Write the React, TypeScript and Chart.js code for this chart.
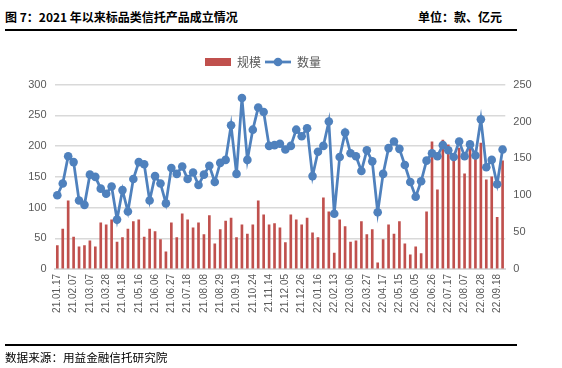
import React, { useEffect, useRef } from "react";
import { Chart, registerables } from "chart.js";

Chart.register(...registerables);

const categories: string[] = [
  "21.01.17", "21.01.24", "21.01.31", "21.02.07", "21.02.21", "21.02.28", "21.03.07", "21.03.14", "21.03.21", "21.03.28",
  "21.04.04", "21.04.11", "21.04.18", "21.04.25", "21.05.09", "21.05.16", "21.05.23", "21.05.30", "21.06.06", "21.06.13",
  "21.06.20", "21.06.27", "21.07.04", "21.07.11", "21.07.18", "21.07.25", "21.08.01", "21.08.08", "21.08.15", "21.08.22",
  "21.08.29", "21.09.05", "21.09.12", "21.09.19", "21.09.26", "21.10.17", "21.10.24", "21.10.31", "21.11.07", "21.11.14",
  "21.11.21", "21.11.28", "21.12.05", "21.12.12", "21.12.19", "21.12.26", "22.01.02", "22.01.09", "22.01.16", "22.01.23",
  "22.01.30", "22.02.13", "22.02.20", "22.02.27", "22.03.06", "22.03.13", "22.03.20", "22.03.27", "22.04.03", "22.04.10",
  "22.04.17", "22.04.24", "22.05.08", "22.05.15", "22.05.22", "22.05.29", "22.06.05", "22.06.12", "22.06.19", "22.06.26",
  "22.07.03", "22.07.10", "22.07.17", "22.07.24", "22.07.31", "22.08.07", "22.08.14", "22.08.21", "22.08.28", "22.09.04",
  "22.09.11", "22.09.18", "22.09.25",
];

// 规模（亿元）— left axis
const scaleValues: number[] = [
  38, 65, 111, 52, 36, 38, 46, 36, 75, 72,
  80, 44, 51, 65, 77, 80, 52, 65, 61, 48,
  28, 75, 51, 90, 80, 67, 75, 56, 87, 41,
  64, 78, 83, 51, 72, 57, 72, 111, 88, 72,
  74, 67, 43, 88, 80, 72, 83, 59, 51, 116,
  93, 26, 80, 69, 44, 46, 77, 56, 64, 10,
  48, 72, 57, 77, 41, 23, 36, 25, 93, 207,
  129, 210, 202, 184, 197, 155, 197, 184, 205, 145,
  150, 84, 176,
];

// 数量（款）— right axis
const countValues: number[] = [
  100, 116, 153, 145, 93, 87, 128, 125, 109, 102,
  112, 67, 107, 78, 122, 145, 142, 93, 126, 116,
  89, 137, 129, 139, 122, 131, 114, 128, 140, 118,
  144, 148, 195, 129, 232, 148, 189, 219, 213, 167,
  168, 170, 162, 167, 189, 180, 191, 126, 159, 167,
  200, 75, 152, 185, 157, 153, 133, 161, 146, 77,
  129, 164, 173, 163, 141, 118, 98, 119, 147, 157,
  153, 168, 161, 152, 173, 153, 169, 154, 203, 138,
  148, 115, 162,
];

const seriesNames = ["规模", "数量"];
const leftAxis = { min: 0, max: 300, step: 50 };
const rightAxis = { min: 0, max: 250, step: 50 };
const labelEvery = 3;

const BAR_COLOR = "#C0504D";
const LINE_COLOR = "#4F81BD";
const TEXT_COLOR = "#595959";
const FONT = '"Liberation Sans", Arial, "Noto Sans CJK SC", sans-serif';
const CJK = '"Noto Sans CJK SC", "Noto Sans CJK JP", sans-serif';

function makeBarIcon(): HTMLCanvasElement {
  const c = document.createElement("canvas");
  c.width = 26;
  c.height = 8;
  const ctx = c.getContext("2d")!;
  ctx.fillStyle = BAR_COLOR;
  ctx.fillRect(0, 0, 26, 8);
  return c;
}

function makeLineIcon(): HTMLCanvasElement {
  const c = document.createElement("canvas");
  c.width = 26;
  c.height = 10;
  const ctx = c.getContext("2d")!;
  ctx.strokeStyle = LINE_COLOR;
  ctx.lineWidth = 2.75;
  ctx.beginPath();
  ctx.moveTo(0, 5);
  ctx.lineTo(26, 5);
  ctx.stroke();
  ctx.fillStyle = LINE_COLOR;
  ctx.beginPath();
  ctx.arc(13, 5, 4.3, 0, Math.PI * 2);
  ctx.fill();
  return c;
}

export default function App() {
  const ref = useRef<HTMLCanvasElement | null>(null);

  useEffect(() => {
    if (!ref.current) return;
    const barIcon = makeBarIcon();
    const lineIcon = makeLineIcon();

    const legendPlugin = {
      id: "legendTweak",
      beforeInit(chart: any) {
        const legend = chart.legend;
        if (!legend) return;
        const orig = legend.fit;
        legend.fit = function () {
          orig.call(this);
          this.height = 32.7;
        };
      },
      afterLayout(chart: any) {
        const legend = chart.legend;
        if (!legend) return;
        legend.left = 0;
        legend.right = 526;
      },
    };

    const chart = new Chart(ref.current, {
      type: "bar",
      data: {
        labels: categories,
        datasets: [
          {
            type: "bar",
            label: seriesNames[0],
            data: scaleValues,
            yAxisID: "y",
            backgroundColor: BAR_COLOR,
            barThickness: 2,
            order: 1,
          } as any,
          {
            type: "line",
            label: seriesNames[1],
            data: countValues,
            yAxisID: "y1",
            borderColor: LINE_COLOR,
            backgroundColor: LINE_COLOR,
            borderWidth: 2.75,
            pointRadius: 4.3,
            pointBorderWidth: 0,
            pointBackgroundColor: LINE_COLOR,
            tension: 0,
            order: 0,
          } as any,
        ],
      },
      options: {
        animation: false,
        responsive: false,
        maintainAspectRatio: false,
        layout: { padding: { top: 52, right: 0, bottom: 29, left: 0 } },
        plugins: {
          tooltip: { enabled: false },
          legend: {
            position: "top",
            labels: {
              usePointStyle: true,
              pointStyleWidth: 26,
              boxHeight: 12,
              padding: 4,
              color: TEXT_COLOR,
              font: { size: 12, family: CJK },
              generateLabels(ch: any) {
                const items = Chart.defaults.plugins.legend.labels.generateLabels(ch);
                items.forEach((it: any) => {
                  it.pointStyle = it.datasetIndex === 0 ? barIcon : lineIcon;
                });
                return items.sort((a: any, b: any) => a.datasetIndex - b.datasetIndex);
              },
            },
          },
        },
        scales: {
          x: {
            offset: true,
            grid: { display: false, drawTicks: false },
            border: { display: true, color: "#d9d9d9", width: 2 },
            ticks: {
              autoSkip: false,
              minRotation: 90,
              maxRotation: 90,
              padding: 5,
              color: TEXT_COLOR,
              font: { size: 10, family: FONT },
              callback: (_v: any, i: number) => (i % labelEvery === 0 ? categories[i] : ""),
            },
            afterFit(s: any) {
              s.height = 70;
            },
          },
          y: {
            position: "left",
            min: leftAxis.min,
            max: leftAxis.max,
            grid: { color: "#d9d9d9", lineWidth: 1.5, drawTicks: false },
            border: { display: false },
            ticks: { stepSize: leftAxis.step, padding: 8, color: TEXT_COLOR, font: { size: 11, family: FONT } },
            afterFit(s: any) {
              s.width = 54.6;
            },
          },
          y1: {
            position: "right",
            min: rightAxis.min,
            max: rightAxis.max,
            grid: { display: false, drawTicks: false },
            border: { display: false },
            ticks: { stepSize: rightAxis.step, padding: 8, color: TEXT_COLOR, font: { size: 11, family: FONT } },
            afterFit(s: any) {
              s.width = 562 - 505.3;
            },
          },
        },
      },
      plugins: [legendPlugin],
    } as any);

    return () => chart.destroy();
  }, []);

  return (
    <div
      style={{
        position: "fixed",
        left: 0,
        top: 0,
        width: 562,
        height: 368,
        background: "#fff",
        overflow: "hidden",
      }}
    >
      <div
        style={{
          position: "absolute",
          left: 5,
          top: 8,
          fontFamily: CJK,
          fontWeight: "bold",
          fontSize: 12,
          lineHeight: "18px",
          color: "#000",
          whiteSpace: "nowrap",
        }}
      >
        图 7：2021 年以来标品类信托产品成立情况
      </div>
      <div
        style={{
          position: "absolute",
          left: 418,
          top: 8,
          fontFamily: CJK,
          fontWeight: "bold",
          fontSize: 12,
          lineHeight: "18px",
          color: "#000",
          whiteSpace: "nowrap",
        }}
      >
        单位：款、亿元
      </div>
      <div style={{ position: "absolute", left: 5, top: 28.5, width: 512, height: 2, background: "#000" }} />
      <canvas ref={ref} width={562} height={368} style={{ position: "absolute", left: 0, top: 0 }} />
      <div style={{ position: "absolute", left: 5, top: 344, width: 512, height: 2, background: "#000" }} />
      <div
        style={{
          position: "absolute",
          left: 5,
          top: 348,
          fontFamily: CJK,
          fontSize: 11.6,
          lineHeight: "18px",
          color: "#000",
          whiteSpace: "nowrap",
        }}
      >
        数据来源：用益金融信托研究院
      </div>
    </div>
  );
}
